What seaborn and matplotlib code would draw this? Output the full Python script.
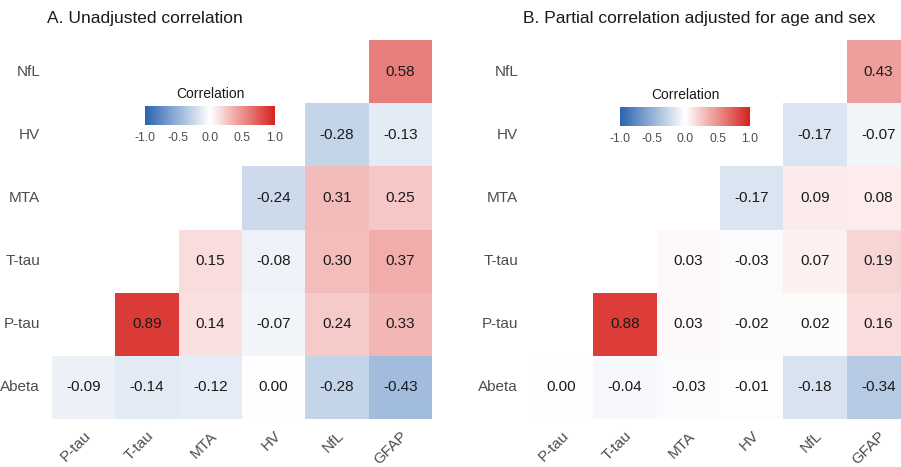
import numpy as np
import pandas as pd
import matplotlib
matplotlib.use("Agg")
import matplotlib.pyplot as plt
from matplotlib.colors import LinearSegmentedColormap
import seaborn as sns

sns.set_theme(style="white")
plt.rcParams["font.family"] = ["Liberation Sans", "DejaVu Sans"]

row_labels = ["NfL", "HV", "MTA", "T-tau", "P-tau", "Abeta"]
col_labels = ["P-tau", "T-tau", "MTA", "HV", "NfL", "GFAP"]

# Lower-triangle values per row (listed left to right, right-aligned to GFAP)
unadjusted = {
    "NfL":   [0.58],
    "HV":    [-0.28, -0.13],
    "MTA":   [-0.24, 0.31, 0.25],
    "T-tau": [0.15, -0.08, 0.30, 0.37],
    "P-tau": [0.89, 0.14, -0.07, 0.24, 0.33],
    "Abeta": [-0.09, -0.14, -0.12, 0.00, -0.28, -0.43],
}
partial = {
    "NfL":   [0.43],
    "HV":    [-0.17, -0.07],
    "MTA":   [-0.17, 0.09, 0.08],
    "T-tau": [0.03, -0.03, 0.07, 0.19],
    "P-tau": [0.88, 0.03, -0.02, 0.02, 0.16],
    "Abeta": [0.00, -0.04, -0.03, -0.01, -0.18, -0.34],
}

titles = ["A. Unadjusted correlation", "B. Partial correlation adjusted for age and sex"]
cbar_ticks = [-1.0, -0.5, 0.0, 0.5, 1.0]


def to_frame(rows):
    n = len(col_labels)
    mat = np.full((len(row_labels), n), np.nan)
    for i, r in enumerate(row_labels):
        vals = rows[r]
        mat[i, n - len(vals):] = vals
    return pd.DataFrame(mat, index=row_labels, columns=col_labels)


cmap = LinearSegmentedColormap.from_list("corr", ["#2A64B0", "#FFFFFF", "#D7231E"])

W, H = 901, 467
fig = plt.figure(figsize=(W / 100, H / 100), dpi=100)

panels = [
    dict(data=unadjusted, ax=(52, 40, 380, 379), cax=(145, 106, 130, 19), tx=47),
    dict(data=partial, ax=(530, 40, 380, 379), cax=(620, 107, 130, 19), tx=523),
]

tick_color = "#4D4D4D"
for p, title in zip(panels, titles):
    x, y, w, h = p["ax"]
    ax = fig.add_axes([x / W, 1 - (y + h) / H, w / W, h / H])
    cx, cy, cw, ch = p["cax"]
    cax = fig.add_axes([cx / W, 1 - (cy + ch) / H, cw / W, ch / H])

    df = to_frame(p["data"])
    sns.heatmap(
        df, ax=ax, cmap=cmap, vmin=-1, vmax=1, center=0,
        annot=True, fmt=".2f",
        annot_kws={"color": "#1A1A1A", "fontsize": 11},
        cbar_ax=cax, cbar_kws={"orientation": "horizontal", "ticks": cbar_ticks},
        linewidths=0, square=False,
    )
    ax.tick_params(axis="both", length=0, colors=tick_color, labelsize=11)
    ax.tick_params(axis="y", pad=8.5)
    plt.setp(ax.get_yticklabels(), rotation=0)
    plt.setp(ax.get_xticklabels(), rotation=45, ha="right", va="top",
             rotation_mode="anchor")
    ax.tick_params(axis="x", pad=7)
    ax.set_xlabel("")
    ax.set_ylabel("")

    fig.text(p["tx"] / W, 1 - 18 / H, title, fontsize=12.5, color="#1A1A1A",
             ha="left", va="center")

    cbar = ax.collections[0].colorbar
    cbar.outline.set_visible(False)
    cax.set_xticks(cbar_ticks)
    cax.set_xticklabels([f"{t:.1f}" for t in cbar_ticks])
    cax.tick_params(axis="x", direction="in", length=3, color="white", width=0.8,
                    top=True, bottom=True, labelsize=8.8, labelcolor=tick_color, pad=5)
    cax.set_title("Correlation", fontsize=10, color="#1A1A1A", pad=6)

fig.savefig("out.png", dpi=100)
